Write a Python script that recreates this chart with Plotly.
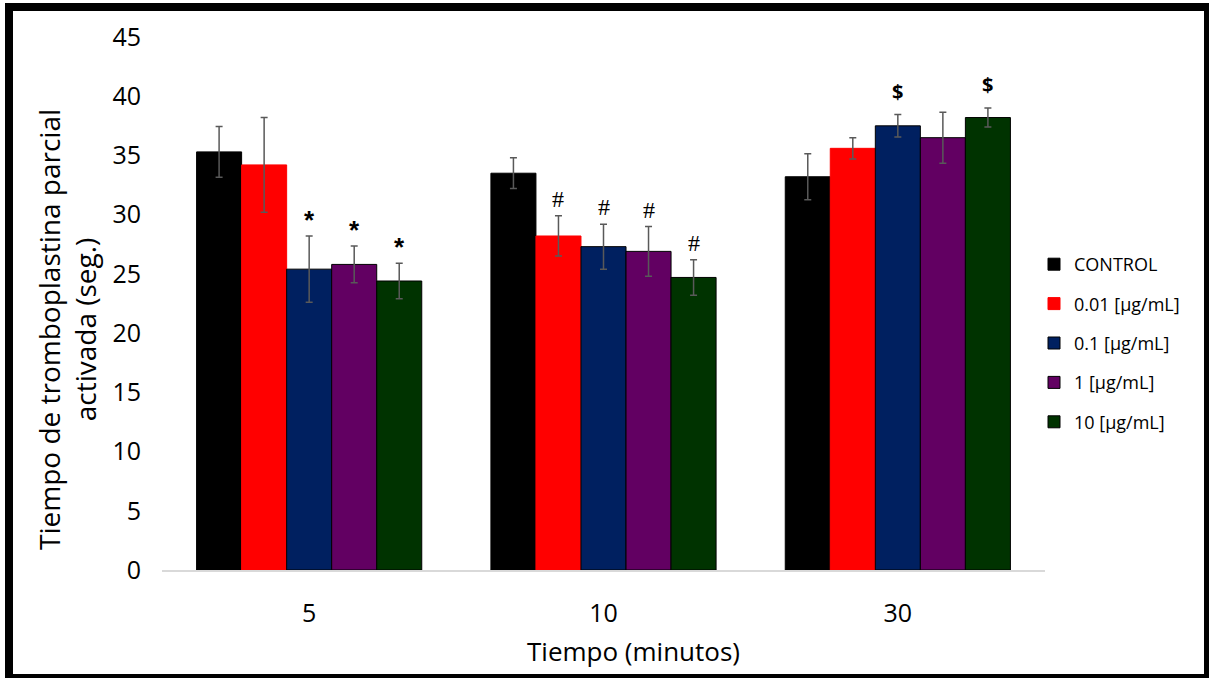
import plotly.graph_objects as go

W, H = 1209, 678
L, R, T, B = 162, 164, 37, 108
PW, PH = W - L - R, H - T - B

tiempos = ["5", "10", "30"]
series_names = ["CONTROL", "0.01 [µg/mL]", "0.1 [µg/mL]", "1 [µg/mL]", "10 [µg/mL]"]
control = [35.3, 33.5, 33.2]
control_err = [2.15, 1.3, 1.95]
c001 = [34.2, 28.2, 35.6]
c001_err = [4.0, 1.7, 0.9]
c01 = [25.4, 27.3, 37.5]
c01_err = [2.8, 1.9, 0.95]
c1 = [25.8, 26.9, 36.5]
c1_err = [1.55, 2.1, 2.15]
c10 = [24.4, 24.7, 38.2]
c10_err = [1.5, 1.5, 0.8]
control_sig = ["", "", ""]
c001_sig = ["", "#", ""]
c01_sig = ["*", "#", "$"]
c1_sig = ["*", "#", ""]
c10_sig = ["*", "#", "$"]

values = [control, c001, c01, c1, c10]
errors = [control_err, c001_err, c01_err, c1_err, c10_err]
sigs = [control_sig, c001_sig, c01_sig, c1_sig, c10_sig]
colors = ["#000000", "#FF0000", "#002060", "#620062", "#003300"]
edge = ["#000000", "#FF0000", "#000000", "#000000", "#000000"]

BARGAP = 0.235

fig = go.Figure()
for i, (name, v, e) in enumerate(zip(series_names, values, errors)):
    fig.add_trace(go.Bar(
        x=tiempos, y=v, name=name, legendgroup=name,
        marker=dict(color=colors[i], line=dict(color=edge[i], width=1)),
        error_y=dict(type="data", array=e, visible=True, color="#595959",
                     thickness=1.5, width=3.5),
    ))

# significance marks
n = len(series_names)
bw = (1 - BARGAP) / n
for i in range(n):
    for j, t in enumerate(tiempos):
        s = sigs[i][j]
        if not s:
            continue
        xpos = j + (i - (n - 1) / 2) * bw
        ytop = values[i][j] + errors[i][j]
        if s == "#":
            font = dict(family="Liberation Serif", size=24, color="#000000")
            ys = 2
            txt = s
        elif s == "*":
            font = dict(family="Liberation Sans", size=26, color="#000000")
            ys = -1
            txt = "<b>*</b>"
        else:
            font = dict(family="Open Sans", size=20, color="#000000")
            ys = 8
            txt = "<b>$</b>"
        fig.add_annotation(x=xpos, y=ytop, xref="x", yref="y", text=txt,
                           showarrow=False, yanchor="bottom", yshift=ys, font=font)

def px(xp):
    return (xp - L) / PW

def py(yp):
    return (H - B - yp) / PH

# y title and x title as annotations
fig.add_annotation(x=px(67), y=py(330), xref="paper", yref="paper",
                   text="Tiempo de tromboplastina parcial<br>activada (seg.)",
                   textangle=-90, showarrow=False, xanchor="center", yanchor="middle",
                   font=dict(family="Open Sans", size=28, color="#000000"))
fig.add_annotation(x=px(633), y=py(651), xref="paper", yref="paper",
                   text="Tiempo (minutos)", showarrow=False, xanchor="center", yanchor="middle",
                   font=dict(family="Open Sans", size=26, color="#000000"))

# frame
for (x0, y0, x1, y1) in [(5, 3, 13, 678), (5, 3, 1209, 11), (1204, 3, 1209, 678), (5, 674, 1209, 678)]:
    fig.add_shape(type="rect", xref="paper", yref="paper",
                  x0=px(x0), x1=px(x1), y0=py(y1), y1=py(y0),
                  fillcolor="#000000", line=dict(width=0), layer="above")

fig.update_layout(
    width=W, height=H,
    margin=dict(l=L, r=R, t=T, b=B, autoexpand=False),
    paper_bgcolor="white", plot_bgcolor="white",
    barmode="group", bargap=BARGAP, bargroupgap=0,
    showlegend=True,
    legend=dict(x=px(1034), y=py(246), xanchor="left", yanchor="top",
                font=dict(family="Open Sans", size=18, color="#000000"),
                tracegroupgap=13, bgcolor="rgba(0,0,0,0)"),
    font=dict(family="Open Sans", color="#000000"),
)
fig.update_xaxes(showline=True, linecolor="#d9d9d9", linewidth=1.5, showgrid=False,
                 ticks="", tickfont=dict(family="Open Sans", size=25, color="#000000"),
                 ticklabelstandoff=20)
fig.update_yaxes(range=[0, 45], dtick=5, showline=False, showgrid=False, zeroline=False,
                 ticks="", tickfont=dict(family="Open Sans", size=25, color="#000000"),
                 ticklabelstandoff=20)

fig.write_html("out.html")
